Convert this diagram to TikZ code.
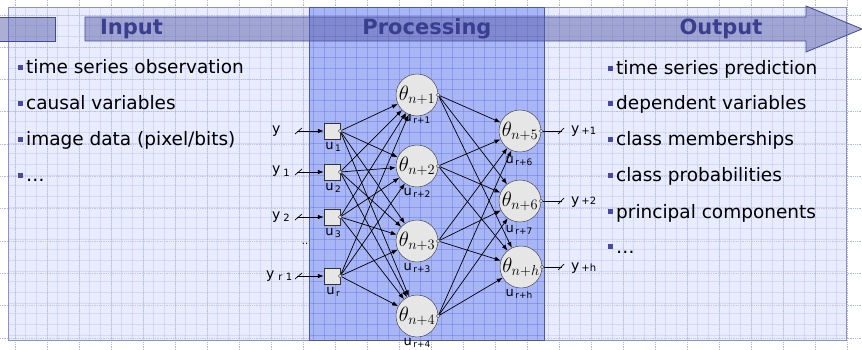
\documentclass[tikz,border=0pt]{standalone}
\usepackage{fontspec}
\setmainfont{DejaVu Sans}
\usetikzlibrary{arrows.meta,calc}

\definecolor{panelbg}{HTML}{E8ECFD}
\definecolor{procbg}{HTML}{A9B6F5}
\definecolor{panelline}{HTML}{8A90D0}
\definecolor{procline}{HTML}{4C58B0}
\definecolor{bannerfill}{HTML}{5A5FA8}
\definecolor{bannerline}{HTML}{45489A}
\definecolor{bannertext}{HTML}{3B3E8E}
\definecolor{gridc}{HTML}{5C70E0}
\definecolor{dotc}{HTML}{AEB6EC}
\definecolor{bulletc}{HTML}{4848A0}
\definecolor{nodefill}{HTML}{E6E6E6}

% square bullet in front of each list entry
\newcommand{\sqbul}{\textcolor{bulletc}{\rule[0.22em]{0.28em}{0.28em}}\hspace{0.15em}}
% letter with a small lowered index, as used for the unit labels
\newcommand{\idx}[2]{#1\hspace{1.5pt}\raisebox{-2pt}{\fontsize{9}{9}\selectfont #2}}

\tikzset{
  neuron/.style={circle,draw=black!80,fill=nodefill,minimum size=42pt,inner sep=0pt,
                 font=\fontsize{20}{20}\selectfont},
  inbox/.style={draw=black!80,fill=nodefill,minimum size=16pt,inner sep=0pt},
  port/.style={circle,draw=black!80,fill=nodefill,minimum size=3.5pt,inner sep=0pt},
  wire/.style={black,line width=0.7pt,-{Latex[length=6pt,width=4.5pt]}},
  plainwire/.style={black,line width=0.7pt},
  tick/.style={black,line width=0.7pt},
  ulab/.style={font=\fontsize{13}{13}\selectfont,inner sep=0pt},
  ylab/.style={font=\fontsize{14}{14}\selectfont,inner sep=0pt,anchor=base west},
  listtext/.style={anchor=base west,inner sep=0pt,font=\fontsize{18.5}{18.5}\selectfont},
  bannertitle/.style={font=\bfseries\fontsize{21}{21}\selectfont,text=bannertext,inner sep=0pt},
  finegrid/.style={gridc,line width=0.4pt,opacity=0.15},
  procgrid/.style={gridc,line width=0.5pt,opacity=0.3},
  coarsegrid/.style={dotc,line width=0.8pt,densely dotted},
}

\begin{document}
\begin{tikzpicture}[x=1pt,y=-1pt]
\useasboundingbox (0,0) rectangle (862,350);
\fill[white] (0,0) rectangle (862,350);

% coarse dotted grid of the sheet
\foreach \k in {0,...,26} \draw[coarsegrid] (15+32*\k,0) -- (15+32*\k,350);
\foreach \k in {0,...,10} \draw[coarsegrid] (0,15+32.3*\k) -- (862,15+32.3*\k);

% panels
\fill[panelbg] (8,8) rectangle (846,340);
\fill[procbg] (309,8) rectangle (544,340);

% fine grid inside the panels
\begin{scope}
  \clip (8,8) rectangle (846,340);
  \foreach \k in {-1,...,79} \draw[finegrid] (15+10.667*\k,0) -- (15+10.667*\k,350);
  \foreach \k in {-1,...,32} \draw[finegrid] (0,15+10.667*\k) -- (862,15+10.667*\k);
  \foreach \k in {0,...,26} \draw[coarsegrid,opacity=0.7] (15+32*\k,0) -- (15+32*\k,350);
  \foreach \k in {0,...,10} \draw[coarsegrid,opacity=0.7] (0,15+32.3*\k) -- (862,15+32.3*\k);
\end{scope}
\begin{scope}
  \clip (309,8) rectangle (544,340);
  \foreach \k in {27,...,51} \draw[procgrid] (15+10.667*\k,0) -- (15+10.667*\k,350);
  \foreach \k in {-1,...,32} \draw[procgrid] (0,15+10.667*\k) -- (862,15+10.667*\k);
\end{scope}

\draw[panelline,line width=1pt] (8,8) rectangle (846,340);
\draw[procline,line width=1pt] (309,8) rectangle (544,340);

% banner arrow
\fill[bannerfill,fill opacity=0.5] (0,17) rectangle (55.7,41);
\draw[bannerline,line width=0.8pt] (0,17) -- (55.7,17) -- (55.7,41) -- (0,41);
\fill[bannerfill,fill opacity=0.5]
  (85,17) -- (806,17) -- (806,6) -- (862,29) -- (806,52) -- (806,41) -- (85,41) -- cycle;
\draw[bannerline,line width=0.8pt]
  (85,17) -- (806,17) -- (806,6) -- (862,29) -- (806,52) -- (806,41) -- (85,41) -- cycle;

\node[bannertitle] (tin) at (131.5,29) {Input};
\node[bannertitle] (tproc) at (427,29) {Processing};
\node[bannertitle] (tout) at (721,29) {Output};

% input list
\node[listtext] (l1) at (18,74) {\sqbul time series observation};
\node[listtext] (l2) at (18,110) {\sqbul causal variables};
\node[listtext] (l3) at (18,146) {\sqbul image data (pixel/bits)};
\node[listtext] (l4) at (18,182) {\sqbul …};

% output list
\node[listtext] (r1) at (608,75) {\sqbul time series prediction};
\node[listtext] (r2) at (608,110) {\sqbul dependent variables};
\node[listtext] (r3) at (608,146) {\sqbul class memberships};
\node[listtext] (r4) at (608,182) {\sqbul class probabilities};
\node[listtext] (r5) at (608,218) {\sqbul principal components};
\node[listtext] (r6) at (608,253) {\sqbul …};

% input units
\foreach \i/\yy/\s in {1/131/1,2/172/2,3/217/3,4/276/r} {
  \node[inbox] (b\i) at (332,\yy) {};
  \node[port] (p\i) at (b\i.east) {};
  \node[ulab] (ub\i) at (333,\yy+15.5) {\idx{u}{\s}};
  \coordinate (s\i) at (297,\yy);
  \draw[tick] ($(s\i)+(-2,3)$) -- ($(s\i)+(5,-3)$);
  \draw[wire] (s\i) -- (b\i);
}
\node[ylab] (y1) at (272,133.5) {y};
\node[ylab] (y2) at (272,174) {y\hspace{3pt}\raisebox{-2pt}{\fontsize{10}{10}\selectfont 1}};
\node[ylab] (y3) at (272,219.5) {y\hspace{3pt}\raisebox{-2pt}{\fontsize{10}{10}\selectfont 2}};
\node[ylab] (y4) at (266,278.5) {y\hspace{4pt}\raisebox{-2pt}{\fontsize{10}{10}\selectfont r 1}};
\node[font=\fontsize{10}{10}\selectfont,inner sep=0pt] (dots) at (305,244) {..};

% hidden units
\foreach \i/\yy in {1/95,2/166,3/241,4/316} {
  \node[neuron] (h\i) at (417,\yy) {$\theta_{n+\i}$};
  \node[port] (hp\i) at (h\i.east) {};
}
\node[ulab] (uh1) at (417,119) {\idx{u}{r+1}};
\node[ulab] (uh2) at (417,193) {\idx{u}{r+2}};
\node[ulab] (uh3) at (417,268) {\idx{u}{r+3}};
\node[ulab] (uh4) at (417,343) {\idx{u}{r+4}};

% output units
\node[neuron] (o1) at (520,131) {$\theta_{n+5}$};
\node[neuron] (o2) at (520,201) {$\theta_{n+6}$};
\node[neuron] (o3) at (521,267) {$\theta_{n+h}$};
\node[ulab] (uo1) at (519,161) {\idx{u}{r+6}};
\node[ulab] (uo2) at (519,230) {\idx{u}{r+7}};
\node[ulab] (uo3) at (519,294) {\idx{u}{r+h}};

% connections input -> hidden -> output
\foreach \i in {1,...,4} \foreach \j in {1,...,4} \draw[wire] (p\i) -- (h\j);
\foreach \j in {1,...,4} \foreach \k in {1,2,3} \draw[wire] (hp\j) -- (o\k);

% output lines
\foreach \k/\lab in {1/+1,2/+2,3/+h} {
  \node[port] (op\k) at (o\k.east) {};
  \coordinate (t\k) at (562,0 |- o\k);
  \draw[plainwire] (op\k) -- (t\k);
  \draw[tick] ($(t\k)+(-4,3)$) -- ($(t\k)+(2,-3)$);
  \node[ylab] (yo\k) at (571,0 |- o\k) [yshift=-3pt]
    {y\hspace{2pt}\raisebox{-1pt}{\fontsize{10}{10}\selectfont \lab}};
}
\end{tikzpicture}
\end{document}
